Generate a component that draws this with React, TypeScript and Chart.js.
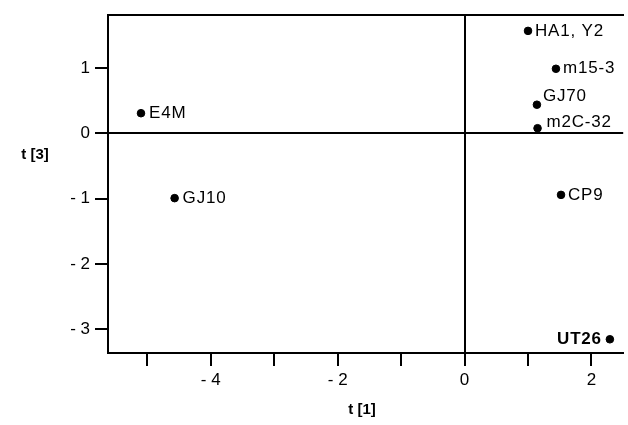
import React, { useEffect, useRef } from "react";
import { Chart, registerables } from "chart.js";

Chart.register(...registerables);

const sampleNames = ["HA1, Y2", "m15-3", "GJ70", "m2C-32", "CP9", "UT26", "E4M", "GJ10"];
const t1Values = [1.0, 1.44, 1.14, 1.15, 1.52, 2.29, -5.1, -4.57];
const t3Values = [1.57, 0.99, 0.44, 0.08, -0.94, -3.15, 0.31, -0.99];
const xTitle = "t [1]";
const yTitle = "t [3]";

const FONT = "'Liberation Sans', Arial, Helvetica, sans-serif";

// label placement (style only): [dx, dy, align, bold]
const labelStyle: Record<string, [number, number, CanvasTextAlign, boolean]> = {
  "HA1, Y2": [7, 0, "left", false],
  "m15-3": [7, 0, "left", false],
  "GJ70": [6, -8, "left", false],
  "m2C-32": [9, -6, "left", false],
  "CP9": [7, 0, "left", false],
  "UT26": [-8, 0, "right", true],
  "E4M": [8, 0, "left", false],
  "GJ10": [8, 0, "left", false],
};

const fmt = (v: number) => (v < 0 ? "- " + Math.abs(v) : String(v));

export default function App() {
  const ref = useRef<HTMLCanvasElement | null>(null);

  useEffect(() => {
    if (!ref.current) return;
    const labelsPlugin = {
      id: "pointLabels",
      afterDatasetsDraw(chart: any) {
        const ctx = chart.ctx;
        const meta = chart.getDatasetMeta(0);
        ctx.save();
        ctx.fillStyle = "#000";
        ctx.textBaseline = "middle";
        (ctx as any).letterSpacing = "0.8px";
        meta.data.forEach((el: any, i: number) => {
          const name = sampleNames[i];
          const st = labelStyle[name] || [7, 0, "left", false];
          ctx.font = (st[3] ? "bold " : "") + "17px " + FONT;
          ctx.textAlign = st[2];
          ctx.fillText(name, el.x + st[0], el.y + st[1]);
        });
        ctx.restore();
      },
    };
    const titlesPlugin = {
      id: "axisTitles",
      afterDraw(chart: any) {
        const ctx = chart.ctx;
        ctx.save();
        ctx.fillStyle = "#000";
        ctx.font = "bold 15px " + FONT;
        ctx.textBaseline = "middle";
        ctx.textAlign = "center";
        ctx.fillText(yTitle, 35, 155);
        ctx.fillText(xTitle, 362, 410);
        ctx.restore();
      },
    };

    const gridCfg = {
      color: (c: any) => (c.tick && c.tick.value === 0 ? "#000" : "rgba(0,0,0,0)"),
      tickColor: "#000",
      lineWidth: 2,
      tickLength: 13,
      drawOnChartArea: true,
    };

    const noPad = (s: any) => {
      s.paddingLeft = 0;
      s.paddingRight = 0;
    };

    const chart = new Chart(ref.current, {
      type: "scatter",
      data: {
        datasets: [
          {
            data: t1Values.map((x, i) => ({ x, y: t3Values[i] })),
            backgroundColor: "#000",
            borderColor: "#000",
            pointRadius: 3.8,
            pointHoverRadius: 3.8,
          },
        ],
      },
      options: {
        animation: false,
        responsive: false,
        maintainAspectRatio: false,
        layout: { padding: 0 },
        plugins: {
          legend: { display: false },
          tooltip: { enabled: false },
        },
        scales: {
          x: {
            type: "linear",
            position: "bottom",
            min: -5.62,
            max: 2.5,
            afterFit: (s: any) => {
              s.height = 72;
              noPad(s);
            },
            border: { display: true, color: "#000", width: 2 },
            grid: gridCfg as any,
            ticks: {
              stepSize: 1,
              includeBounds: false,
              autoSkip: false,
              maxRotation: 0,
              padding: 4,
              color: "#000",
              font: { family: FONT, size: 17 },
              callback: (v: any) => (Number(v) % 2 === 0 ? fmt(Number(v)) : ""),
            },
          },
          x2: {
            type: "linear",
            position: "top",
            min: -5.62,
            max: 2.5,
            afterFit: (s: any) => {
              s.height = 13;
              noPad(s);
            },
            border: { display: true, color: "#000", width: 2 },
            grid: { display: false, drawTicks: false },
            ticks: { display: false },
          },
          y: {
            type: "linear",
            position: "left",
            min: -3.36,
            max: 1.81,
            afterFit: (s: any) => {
              s.width = 108;
            },
            border: { display: true, color: "#000", width: 2 },
            grid: gridCfg as any,
            ticks: {
              stepSize: 1,
              includeBounds: false,
              autoSkip: false,
              padding: 5,
              color: "#000",
              font: { family: FONT, size: 17 },
              callback: (v: any) => fmt(Number(v)),
            },
          },
        },
      },
      plugins: [labelsPlugin, titlesPlugin],
    } as any);
    return () => chart.destroy();
  }, []);

  return (
    <div style={{ position: "fixed", left: 0, top: 0, width: 628, height: 425, background: "#fff" }}>
      <canvas ref={ref} width={628} height={425} style={{ width: 628, height: 425 }} />
    </div>
  );
}
